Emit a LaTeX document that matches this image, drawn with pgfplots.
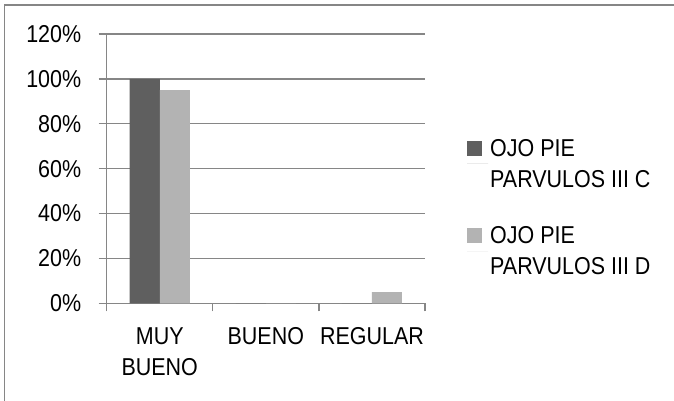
\documentclass[border=0pt]{standalone}
\usepackage{pgfplots}
\pgfplotsset{compat=1.18}
\usepackage{fontspec}
\setmainfont{Liberation Sans}[FakeStretch=0.88]
\definecolor{serieC}{HTML}{5F5F5F}
\definecolor{serieD}{HTML}{B3B3B3}
\definecolor{linea}{HTML}{868686}
\begin{document}
\begin{tikzpicture}
\useasboundingbox (0bp,0bp) rectangle (674bp,401bp);
\draw[linea, line width=1.2bp] (4.5bp,0bp) -- (4.5bp,396bp) -- (674bp,396bp);
\begin{axis}[
  at={(106.7bp,97.7bp)}, anchor=south west,
  scale only axis, width=318.3bp, height=269.2bp,
  ybar=0pt, bar width=30bp,
  xmin=-0.5, xmax=2.5, ymin=0, ymax=120,
  axis x line*=bottom, axis y line*=left,
  axis line style={linea, line width=1.2bp},
  tick align=outside, major tick length=8bp,
  tick style={linea, line width=1.2bp},
  xtick={-0.5,0.5,1.5,2.5}, xticklabels={},
  extra x ticks={0,1,2},
  extra x tick labels={{MUY\\BUENO},BUENO,REGULAR},
  extra x tick style={major tick length=0pt},
  xticklabel style={align=center, yshift=-21bp, font=\fontsize{24.4bp}{31bp}\selectfont},
  ytick={0,20,40,60,80,100,120},
  yticklabels={0\%,20\%,40\%,60\%,80\%,100\%,120\%},
  yticklabel style={xshift=-14bp, font=\fontsize{24.4bp}{31bp}\selectfont},
  ymajorgrids, major grid style={linea, line width=1.2bp},
  legend image code/.code={\path (0bp,0bp) -- (21bp,0bp);
    \fill[#1, draw=none] (0bp,8bp) rectangle (15bp,23bp);},
  legend style={draw=none, fill=none, at={(1.132,0.618)}, anchor=north west,
    font=\fontsize{24.4bp}{31bp}\selectfont, cells={anchor=west, align=left},
    row sep=34bp, inner sep=0pt},
]
\addplot[fill=serieC, draw=none] coordinates {(0,100) (1,0) (2,0)};
\addlegendentry{OJO PIE\\PARVULOS III C}
\addplot[fill=serieD, draw=none] coordinates {(0,95) (1,0) (2,5)};
\addlegendentry{OJO PIE\\PARVULOS III D}
\end{axis}
\end{tikzpicture}
\end{document}
